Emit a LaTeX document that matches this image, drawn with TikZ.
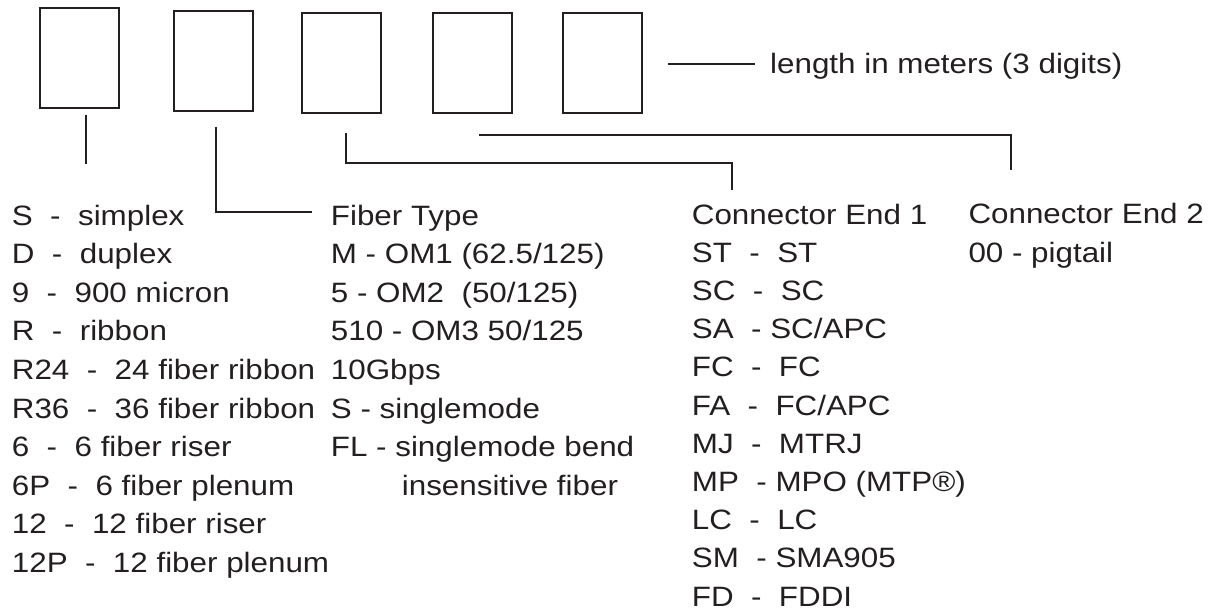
\documentclass[tikz,border=0pt]{standalone}
\usepackage{fontspec}
\setmainfont{Liberation Sans}[FakeStretch=1.12]
\definecolor{ink}{HTML}{231F20}
\begin{document}
\begin{tikzpicture}[x=1pt,y=-1pt,
  digitbox/.style={draw=ink, line width=1.8pt, minimum width=79pt, minimum height=100pt, inner sep=0pt},
  wire/.style={draw=ink, line width=1.8pt},
  label/.style={anchor=base west, align=left, inner sep=0pt, text=ink,
    font=\fontsize{28}{38.6}\selectfont}]
\useasboundingbox (0,0) rectangle (1210,612);
% digit boxes
\node[digitbox] (b1) at (79.2,58.3) {};
\node[digitbox] (b2) at (213.3,61.2) {};
\node[digitbox] (b3) at (341.2,63.3) {};
\node[digitbox] (b4) at (472.2,63.3) {};
\node[digitbox] (b5) at (602.2,63.3) {};
% text blocks (anchored at the baseline of their last line)
\node[label] (t1) at (11.7,572.4) {S\ \ -\ \ simplex\\D\ \ -\ \ duplex\\9\ \ -\ \ 900 micron\\R\ \ -\ \ ribbon\\R24\ \ -\ \ 24 fiber ribbon\\R36\ \ -\ \ 36 fiber ribbon\\6\ \ -\ \ 6 fiber riser\\6P\ \ -\ \ 6 fiber plenum\\12\ \ -\ \ 12 fiber riser\\12P\ \ -\ \ 12 fiber plenum};
\node[label] (t2) at (330.7,495.2) {Fiber Type\\M - OM1 (62.5/125)\\5 - OM2\ \ (50/125)\\510 - OM3 50/125\\10Gbps\\S - singlemode\\FL - singlemode bend\\\hspace*{71pt}insensitive fiber};
\node[label, font=\fontsize{28}{38.2}\selectfont] (t3) at (691.7,606) {Connector End 1\\ST\ \ -\ \ ST\\SC\ \ -\ \ SC\\SA\ \ - SC/APC\\FC\ \ -\ \ FC\\FA\ \ -\ \ FC/APC\\MJ\ \ -\ \ MTRJ\\MP\ \ - MPO (MTP®)\\LC\ \ -\ \ LC\\SM\ \ - SMA905\\FD\ \ -\ \ FDDI};
\node[label] (t4) at (968.3,262.6) {Connector End 2\\00 - pigtail};
\node[label] (t5) at (770,74) {length in meters (3 digits)};
% connector coordinates
\coordinate (c1a) at (85.7,115);
\coordinate (c1b) at (85.7,164);
\coordinate (c2a) at (216,126.7);
\coordinate (c2b) at (312.3,211.7);
\coordinate (c3a) at (346,132.7);
\coordinate (c3b) at (731.7,190);
\coordinate (c4a) at (479,135);
\coordinate (c4b) at (1011,170);
\coordinate (c5a) at (667.5,64);
\coordinate (c5b) at (755,64);
% connectors
\draw[wire] (c1a) -- (c1b);
\draw[wire] (c2a) |- (c2b);
\draw[wire] (c3a) -- (346,163.3) -| (c3b);
\draw[wire] (c4a) -| (c4b);
\draw[wire] (c5a) -- (c5b);
\end{tikzpicture}
\end{document}
